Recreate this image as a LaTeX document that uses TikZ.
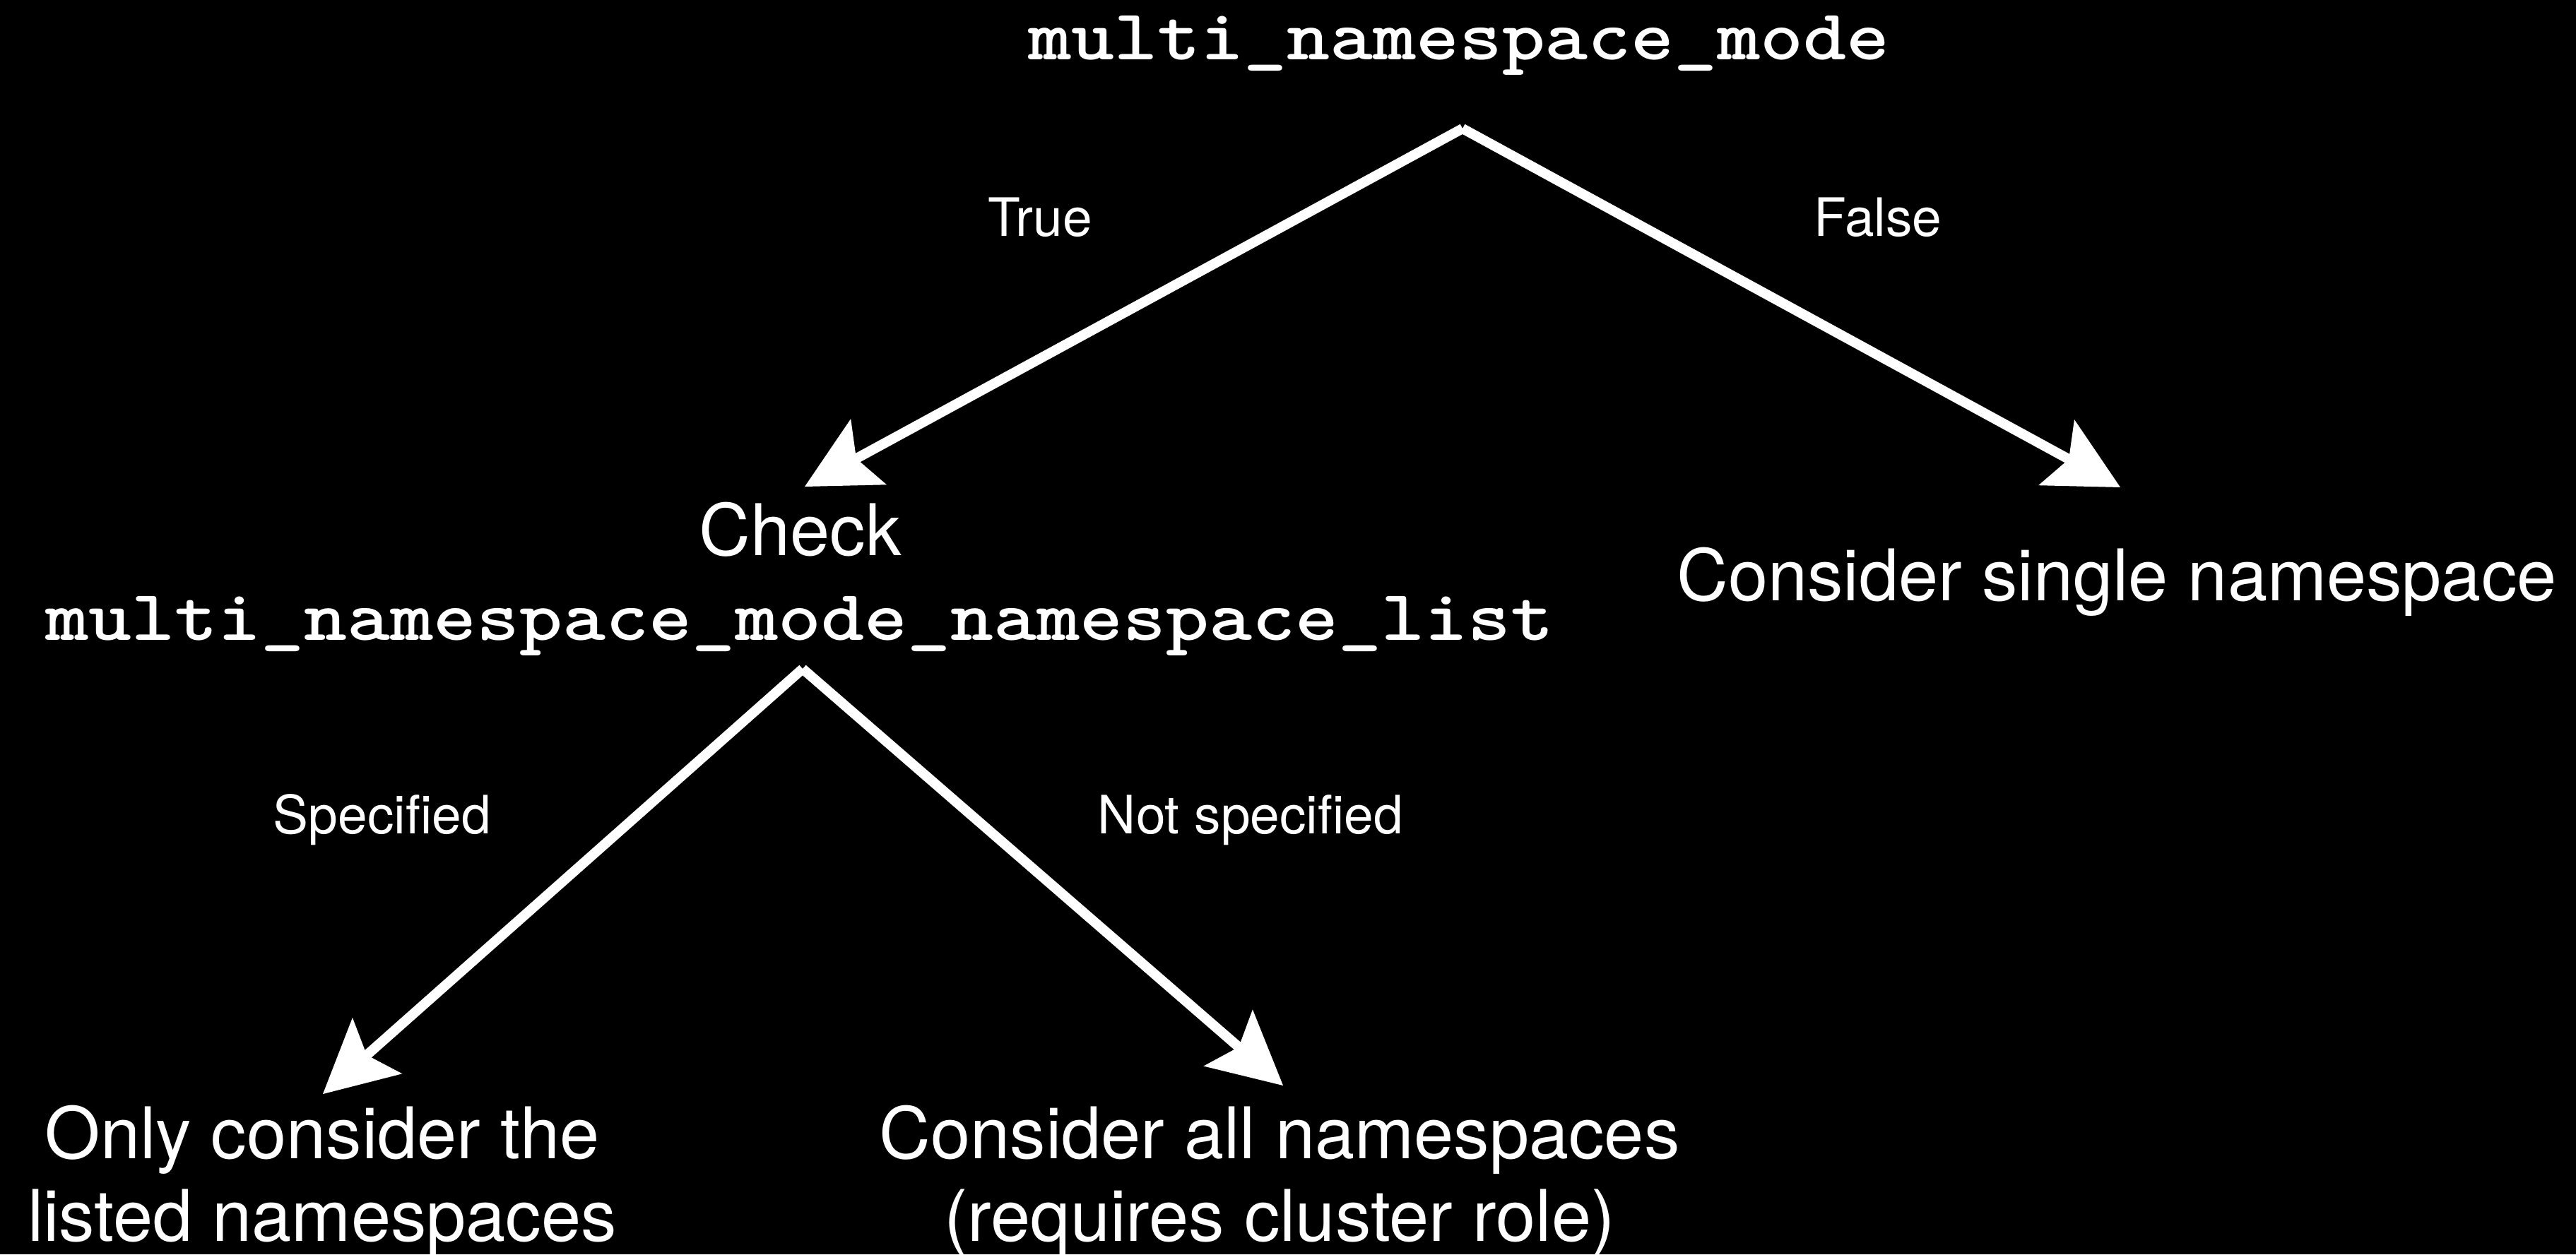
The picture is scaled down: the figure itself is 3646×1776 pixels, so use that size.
\documentclass[tikz,border=0pt]{standalone}
\usepackage{fontspec}
\usepackage{graphicx}
\setsansfont{TeX Gyre Heros}
\usetikzlibrary{arrows.meta}

% bold typewriter text, widened to Courier's character pitch
\newcommand{\codetext}[1]{\scalebox{1.143}[1]{\fontsize{28.9pt}{34.1pt}\selectfont\ttfamily\bfseries #1}}

\tikzset{
  every node/.style={text=white, inner sep=0pt, outer sep=0pt},
  maintext/.style={font=\sffamily\fontsize{28.7pt}{33pt}\selectfont, align=center},
  branchlabel/.style={font=\sffamily\fontsize{21.3pt}{25pt}\selectfont, anchor=base},
  flowarrow/.style={draw=white, line width=0.14cm,
    -{Stealth[length=1.03cm, width=1.06cm, inset=0.2cm, line width=0pt]}},
}

\begin{document}
\begin{tikzpicture}[x=0.01cm, y=-0.01cm]
  \fill[black] (0,0) rectangle (3646,1776);
  \useasboundingbox (0,0) rectangle (3646,1776);

  % decision nodes and outcomes (multi-line nodes are placed by their last baseline)
  \node[anchor=base] (root) at (2065,85) {\codetext{multi\_namespace\_mode}};
  \node[maintext, anchor=base] (checkword) at (1133,786) {Check};
  \node[anchor=base] (check) at (1132,906) {\codetext{multi\_namespace\_mode\_namespace\_list}};
  \node[maintext, anchor=base] (single) at (2996,850) {Consider single namespace};
  \node[maintext, anchor=base] (listed) at (456,1757) {Only consider the\\listed namespaces};
  \node[maintext, anchor=base] (all) at (1811,1757) {Consider all namespaces\\(requires cluster role)};

  % connector ends
  \coordinate (rootout) at (2070,182);
  \coordinate (checkout) at (1136,947);
  \coordinate (checkin) at (1139,689);
  \coordinate (singlein) at (3001,690);
  \coordinate (listedin) at (457,1549);
  \coordinate (allin) at (1816,1537);

  \draw[flowarrow] (rootout) -- (checkin);
  \draw[flowarrow] (rootout) -- (singlein);
  \draw[flowarrow] (checkout) -- (listedin);
  \draw[flowarrow] (checkout) -- (allin);

  % branch labels
  \node[branchlabel] (ltrue) at (1472,335) {True};
  \node[branchlabel] (lfalse) at (2658,335) {False};
  \node[branchlabel] (lspec) at (541,1180) {Specified};
  \node[branchlabel] (lnotspec) at (1770,1180) {Not specified};
\end{tikzpicture}
\end{document}
